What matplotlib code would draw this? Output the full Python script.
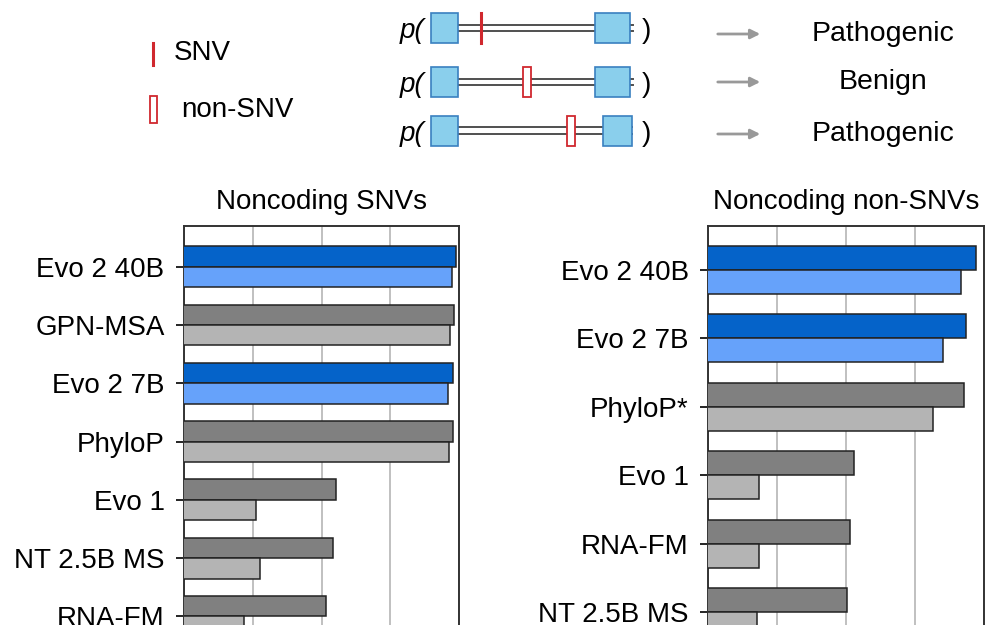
import numpy as np
import matplotlib.pyplot as plt
from matplotlib.patches import Rectangle

plt.rcParams['font.family'] = ['Liberation Sans', 'DejaVu Sans']

# data (AUROC)
snv_models = ['Evo 2 40B', 'GPN-MSA', 'Evo 2 7B', 'PhyloP', 'Evo 1', 'NT 2.5B MS', 'RNA-FM']
snv_dark = [0.995, 0.993, 0.991, 0.991, 0.821, 0.816, 0.807]
snv_light = [0.990, 0.987, 0.984, 0.985, 0.704, 0.711, 0.687]
snv_is_evo2 = [True, False, True, False, False, False, False]

nonsnv_models = ['Evo 2 40B', 'Evo 2 7B', 'PhyloP*', 'Evo 1', 'RNA-FM', 'NT 2.5B MS']
nonsnv_dark = [0.988, 0.974, 0.971, 0.812, 0.805, 0.801]
nonsnv_light = [0.967, 0.941, 0.926, 0.674, 0.674, 0.671]
nonsnv_is_evo2 = [True, True, False, False, False, False]

x_ticks = [0.6, 0.7, 0.8, 0.9, 1.0]

BLUE_D, BLUE_L = '#0563C9', '#66A2FA'
GRAY_D, GRAY_L = '#808080', '#B4B4B4'

fig = plt.figure(figsize=(10, 6.25), dpi=100)

# schematic on top, in pixel coords
ax0 = fig.add_axes([0, 0, 1, 1])
ax0.set_xlim(0, 1000)
ax0.set_ylim(625, 0)
ax0.axis('off')

red = '#D0282E'
ax0.plot([152.7, 152.7], [43, 65], color=red, lw=2.2)
ax0.text(174, 53, 'SNV', fontsize=20, va='center', ha='left')
ax0.add_patch(Rectangle((150, 96), 7.3, 27, fill=False, ec=red, lw=1.3))
ax0.text(181, 110, 'non-SNV', fontsize=20, va='center', ha='left')

rows = [  # (center y, right box left, right box width, stub, variant x, variant kind, arrow y)
    (27.7, 595, 35, 2.5, 481, 'snv', 34),
    (81.7, 595, 35, 2.5, 527, 'non', 82),
    (130.7, 602.7, 29.6, 0, 571, 'non', 134),
]
outcomes = ['Pathogenic', 'Benign', 'Pathogenic']
box_fc, box_ec = '#8ACFEC', '#3A80C0'
for (yc, rb, rw, stub, vx, kind, ay), outc in zip(rows, outcomes):
    ax0.text(400, yc + 3, 'p(', fontsize=20, style='italic', va='center', ha='left')
    ax0.text(642, yc + 3, ')', fontsize=20, va='center', ha='left')
    for dy in (-3.2, 3.2):
        ax0.plot([457, rb + rw + stub], [yc + dy, yc + dy], color='#505050', lw=1.4, zorder=1)
    ax0.add_patch(Rectangle((431, yc - 15), 26.7, 30, fc=box_fc, ec=box_ec, lw=1.2, zorder=2))
    ax0.add_patch(Rectangle((rb, yc - 15), rw, 30, fc=box_fc, ec=box_ec, lw=1.2, zorder=2))
    if kind == 'snv':
        ax0.plot([vx, vx], [yc - 14.5, yc + 15], color=red, lw=2.2, zorder=3)
    else:
        ax0.add_patch(Rectangle((vx - 3.7, yc - 15), 7.4, 30, fc='white', ec=red, lw=1.3, zorder=3))
    ax0.annotate('', xy=(763, ay), xytext=(715, ay),
                 arrowprops=dict(arrowstyle='-|>', color='#999999', lw=2, mutation_scale=14))
    ax0.text(883, ay, outc, fontsize=20.5, va='center', ha='center')


def panel(rect, title, models, dark, light, evo2, top):
    ax = fig.add_axes(rect)
    y = np.arange(len(models))
    h = 0.35
    cd = [BLUE_D if e else GRAY_D for e in evo2]
    cl = [BLUE_L if e else GRAY_L for e in evo2]
    ax.barh(y - h / 2, dark, height=h, left=0, color=cd, edgecolor='#222222', lw=1.1, zorder=3)
    ax.barh(y + h / 2, light, height=h, left=0, color=cl, edgecolor='#222222', lw=1.1, zorder=3)
    ax.set_xlim(0.6, 1.0)
    ax.set_xticks(x_ticks)
    ax.tick_params(axis='x', labelbottom=False)
    ax.grid(axis='x', color='#BBBBBB', lw=1.3, zorder=0)
    ax.set_axisbelow(True)
    span = rect[3] * 625 / (58.3 if len(models) == 7 else 68.4)
    ax.set_ylim(top + span, top)
    ax.set_yticks(y)
    ax.set_yticklabels(models, fontsize=20)
    ax.tick_params(axis='y', length=6, width=1.2, pad=8)
    for s in ax.spines.values():
        s.set_color('#333333')
        s.set_linewidth(1.4)
    ax.set_title(title, fontsize=20, pad=12)
    return ax


panel([0.184, -0.0512, 0.275, 0.6896], 'Noncoding SNVs',
      snv_models, snv_dark, snv_light, snv_is_evo2, -0.698)
panel([0.7083, -0.0512, 0.2757, 0.6896], 'Noncoding non-SNVs',
      nonsnv_models, nonsnv_dark, nonsnv_light, nonsnv_is_evo2, -0.643)

fig.savefig('out.png', dpi=100)
